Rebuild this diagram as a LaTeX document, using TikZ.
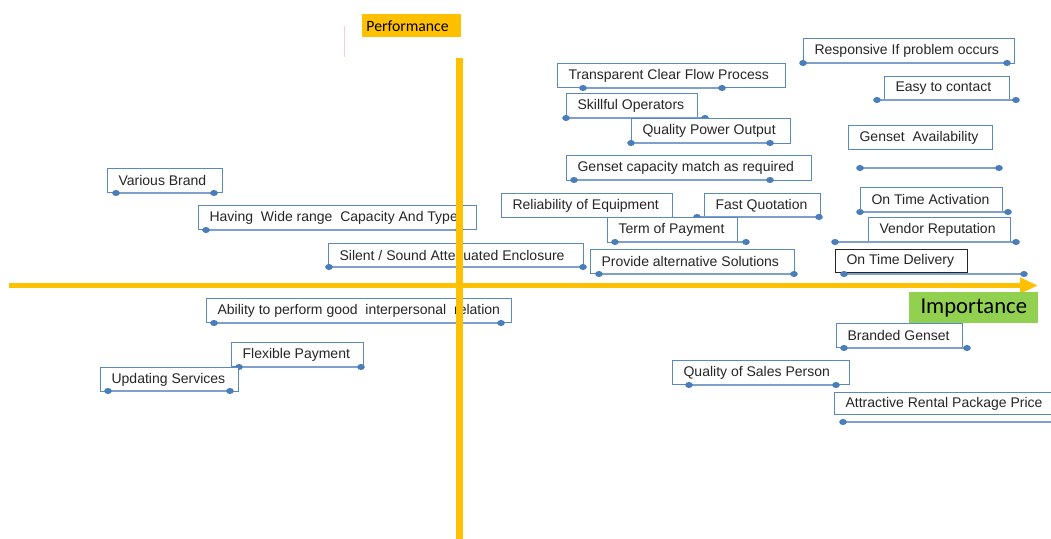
\documentclass[tikz,border=0pt]{standalone}
\usepackage{fontspec}
\setmainfont{Liberation Sans}
\newfontfamily\calib{Carlito}
\usetikzlibrary{arrows.meta}
\definecolor{bxblue}{HTML}{5A87C5}
\definecolor{lnblue}{HTML}{7F9FCC}
\definecolor{dotblue}{HTML}{4A7EBB}
\definecolor{axorange}{HTML}{FFC000}
\definecolor{impgreen}{HTML}{92D050}
\definecolor{faintpink}{HTML}{F6CFCF}
\tikzset{
  box/.style={draw=bxblue, line width=0.9pt, fill=white, inner xsep=8.25pt, inner ysep=0pt,
    font=\fontsize{10.5}{12}\selectfont, text=black!85},
  blackbox/.style={box, draw=black!85, line width=0.8pt},
  connline/.style={draw=lnblue, line width=1.2pt},
  dotc/.style={fill=dotblue},
  axis/.style={draw=axorange},
}
\newcommand\itembox[7][box]{%
  \pgfmathsetmacro\bw{(#5-#3)*0.75-16.5}%
  \pgfmathsetmacro\bh{(#6-#4)*0.75}%
  \node[#1, minimum height=\bh pt, anchor=north west] (#2) at (#3,#4) {\makebox[\bw pt][l]{#7}};%
}
\newcommand\conn[4]{%
  \coordinate (#1a) at (#2,#4);
  \coordinate (#1b) at (#3,#4);
  \draw[connline] (#1a) -- (#1b);
  \fill[dotc] (#1a) ellipse[x radius=2.85pt, y radius=2.3pt];
  \fill[dotc] (#1b) ellipse[x radius=2.85pt, y radius=2.3pt];
}
\begin{document}
\begin{tikzpicture}[x=0.75pt,y=-0.75pt]
\useasboundingbox (0,0) rectangle (1051,539);
% performance label
\node[fill=axorange, minimum width=99*0.75pt, minimum height=23*0.75pt, inner sep=0pt, anchor=north west,
  font=\calib\fontsize{11.8}{13}\selectfont] (perf) at (362,14) {\makebox[68pt][l]{Performance}};
\coordinate (pk1) at (344,26);
\coordinate (pk2) at (344,57);
\draw[faintpink, line width=0.75pt] (pk1) -- (pk2);
% right cluster
\itembox{resp}{803}{38}{1014}{63}{Responsive If problem occurs}
\conn{resp}{803}{1007}{63}
\itembox{easy}{884}{76}{1009}{99}{Easy to contact}
\conn{easy}{877}{1016}{100}
\itembox{avail}{848}{125}{992}{149}{Genset\ \ Availability}
\conn{avail}{860}{999}{168}
\itembox{act}{860}{187}{1002}{211}{On Time Activation}
\conn{act}{860}{1008}{212}
\itembox{vend}{868}{217}{1010}{242}{Vendor Reputation}
\conn{vend}{835}{1016}{242}
\itembox[blackbox]{deliv}{835}{249}{967}{272}{On Time Delivery}
\conn{deliv}{844}{1024}{274}
% middle cluster
\itembox{trans}{557}{63}{785}{87}{Transparent Clear Flow Process}
\conn{trans}{583}{722}{88}
\itembox{skill}{566}{93}{697}{118}{Skillful Operators}
\conn{skill}{566}{705}{118}
\itembox{qpo}{631}{118}{790}{143}{Quality Power Output}
\conn{qpo}{631}{770}{143}
\itembox{cap}{566}{155}{811}{180}{Genset capacity match as required}
\conn{cap}{574}{770}{180}
\itembox{rel}{501}{193}{672}{217}{Reliability of Equipment}
\itembox{fast}{704}{193}{820}{217}{Fast Quotation}
\conn{fast}{697}{819}{217}
\itembox{term}{607}{217}{737}{242}{Term of Payment}
\conn{term}{615}{746}{242}
\itembox{prov}{590}{249}{794}{273}{Provide alternative Solutions}
\conn{prov}{599}{794}{274}
% left cluster
\itembox{silent}{328}{243}{583}{267}{Silent / Sound Attenuated Enclosure}
\conn{silent}{329}{583}{267}
\itembox{brand}{107}{168}{222}{192}{Various Brand}
\conn{brand}{116}{214}{193}
\itembox{wide}{198}{205}{476}{229}{Having\ \ Wide range\ \ Capacity And Type}
\conn{wide}{206}{459}{230}
\itembox{abil}{206}{298}{511}{322}{Ability to perform good\ \ interpersonal\ \ relation}
\conn{abil}{214}{501}{323}
\itembox{flex}{231}{342}{363}{366}{Flexible Payment}
\conn{flex}{239}{361}{367}
\itembox{upd}{100}{367}{238}{391}{Updating Services}
\conn{upd}{108}{230}{391}
% lower right
\itembox{brg}{836}{323}{962}{347}{Branded Genset}
\conn{brg}{844}{967}{348}
\itembox{qsp}{672}{360}{849}{384}{Quality of Sales Person}
\conn{qsp}{689}{836}{385}
\itembox{attr}{834}{392}{1062}{414}{Attractive Rental Package Price}
\coordinate (attra) at (843,422);
\coordinate (attrb) at (1062,422);
\draw[connline] (attra) -- (attrb);
\fill[dotc] (attra) ellipse[x radius=2.85pt, y radius=2.3pt];
% axes
\coordinate (vtop) at (459.5,58);
\coordinate (vbot) at (459.5,545);
\draw[axis, line width=5pt] (vtop) -- (vbot);
\coordinate (hl) at (9,285.5);
\coordinate (hr) at (1038,285.5);
\draw[axis, line width=3.75pt, -{Triangle[length=13.5pt,width=11.25pt]}] (hl) -- (hr);
\node[fill=impgreen, minimum width=129*0.75pt, minimum height=31*0.75pt, inner sep=0pt, anchor=north west,
  font=\calib\fontsize{17}{19}\selectfont] (imp) at (909,292) {Importance};
\end{tikzpicture}
\end{document}
